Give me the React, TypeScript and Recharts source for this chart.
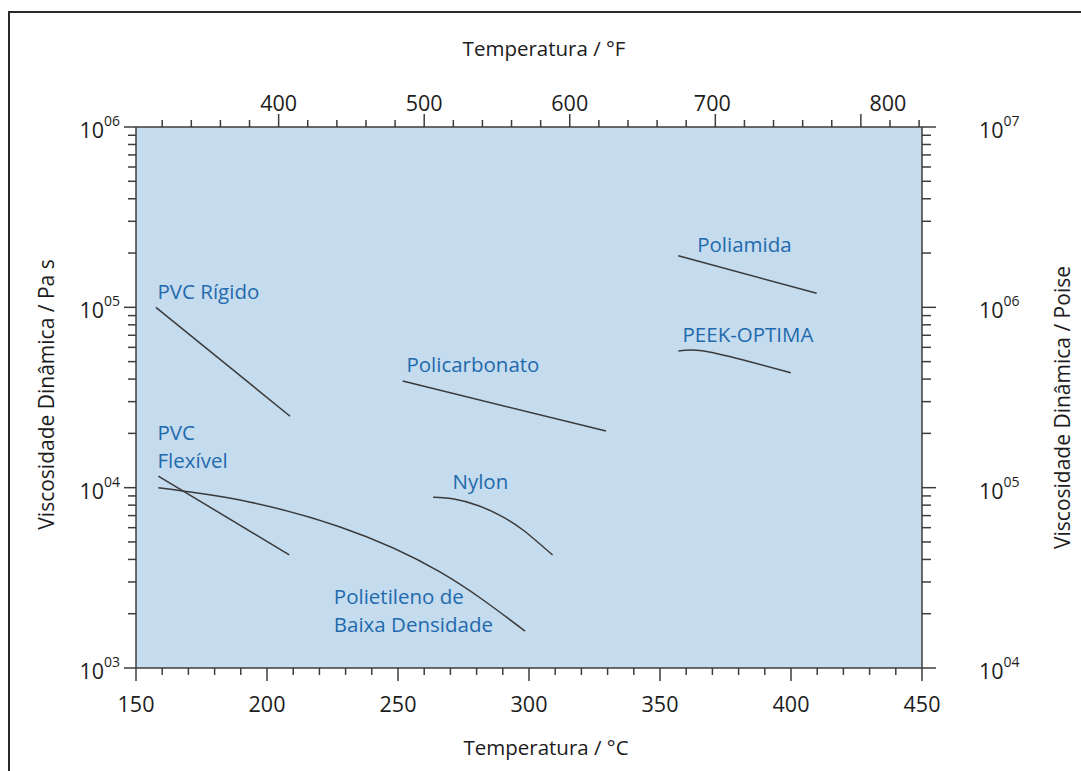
import React from 'react';
import { LineChart, Line, XAxis, YAxis, CartesianGrid, ReferenceDot } from 'recharts';

const FONT = '"Open Sans", "Noto Sans", sans-serif';
const AXIS_COLOR = '#3d3d3d';
const TEXT_COLOR = '#1c1c1c';
const LABEL_BLUE = '#1f6aad';
const LINE_COLOR = '#3a3a3a';
const PLOT_BG = '#c5dbee';

// ---- tick values ----
const celsiusMajor = [150, 200, 250, 300, 350, 400, 450];
const celsiusStep = 10;
const fahrenheitMajor = [400, 500, 600, 700, 800];
const fahrenheitStep = 20;
const fahrenheitDomain = [302, 842]; // 150 °C .. 450 °C
const pasDecades = [1000, 10000, 100000, 1000000];
const poiseDecades = [10000, 100000, 1000000, 10000000];
const mantissas = [1, 2, 3, 4, 5, 6, 7, 8, 9];

// ---- series (Temperature °C, viscosity Pa·s) ----
const pvcRigido = [
  { t: 157.6, v: 100000 },
  { t: 208.8, v: 24900 },
];
const pvcFlexivel = [
  { t: 158.5, v: 11600 },
  { t: 208.5, v: 4240 },
];
const polietileno = [
  { t: 158.5, v: 10000 },
  { t: 189.7, v: 8540 },
  { t: 227.9, v: 6050 },
  { t: 266.0, v: 3410 },
  { t: 298.5, v: 1600 },
];
const nylon = [
  { t: 263.4, v: 8840 },
  { t: 271.8, v: 8630 },
  { t: 280.5, v: 7970 },
  { t: 288.9, v: 7020 },
  { t: 297.7, v: 5825 },
  { t: 309.0, v: 4230 },
];
const policarbonato = [
  { t: 251.8, v: 39000 },
  { t: 329.4, v: 20600 },
];
const poliamida = [
  { t: 357.0, v: 193000 },
  { t: 409.8, v: 119700 },
];
const peek = [
  { t: 357.0, v: 57300 },
  { t: 366.0, v: 57400 },
  { t: 381.8, v: 51000 },
  { t: 399.9, v: 43400 },
];

const annotations = [
  { lines: ['PVC Rígido'], t: 158.2, v: 121600 },
  { lines: ['Policarbonato'], t: 253.2, v: 48000 },
  { lines: ['Poliamida'], t: 364.2, v: 222000 },
  { lines: ['PEEK-OPTIMA'], t: 358.6, v: 70300 },
  { lines: ['PVC', 'Flexível'], t: 158.2, v: 20100 },
  { lines: ['Nylon'], t: 270.8, v: 10800 },
  { lines: ['Polietileno de', 'Baixa Densidade'], t: 225.5, v: 2480 },
];

const seriesList = [pvcRigido, pvcFlexivel, polietileno, nylon, policarbonato, poliamida, peek];
const curvedSeries = [polietileno, nylon, peek];

// build tick arrays
const range = (a: number, b: number, s: number) => {
  const out: number[] = [];
  for (let v = a; v <= b + 1e-9; v += s) out.push(Math.round(v * 1000) / 1000);
  return out;
};
const celsiusTicks = range(celsiusMajor[0], celsiusMajor[celsiusMajor.length - 1], celsiusStep);
const fahrenheitTicks = range(320, 840, fahrenheitStep);
const fahrenheitAnchor = fahrenheitDomain.map((f) => ({ f, v: null }));
const logTicks = (decades: number[]) => {
  const out: number[] = [];
  decades.forEach((d, i) => {
    if (i === decades.length - 1) out.push(d);
    else mantissas.forEach((m) => out.push(m * d));
  });
  return out;
};
const pasTicks = logTicks(pasDecades);
const poiseTicks = logTicks(poiseDecades);

const isDecade = (v: number) => {
  const e = Math.round(Math.log10(v));
  return Math.abs(v / Math.pow(10, e) - 1) < 1e-6;
};
const expLabel = (v: number) => {
  const e = Math.round(Math.log10(v));
  return (e < 10 ? '0' : '') + e;
};

const TICK_FS = 21.5;
const SUP_FS = 14;

const BottomTick = (p: any) => {
  const { x, y, payload } = p;
  const major = celsiusMajor.includes(payload.value);
  return (
    <g>
      <line x1={x} x2={x} y1={y} y2={y + (major ? 13 : 7)} stroke={AXIS_COLOR} strokeWidth={1.5} />
      {major && (
        <text x={x} y={y + 44} textAnchor="middle" fontFamily={FONT} fontSize={TICK_FS} fill={TEXT_COLOR}>
          {payload.value}
        </text>
      )}
    </g>
  );
};

const TopTick = (p: any) => {
  const { x, y, payload } = p;
  const major = fahrenheitMajor.includes(payload.value);
  const dx = payload.value === 800 ? 27 : payload.value === 700 ? -3 : 0;
  return (
    <g>
      <line x1={x} x2={x} y1={y} y2={y - (major ? 13 : 7)} stroke={AXIS_COLOR} strokeWidth={1.5} />
      {major && (
        <text x={x + dx} y={y - 16} textAnchor="middle" fontFamily={FONT} fontSize={TICK_FS} fill={TEXT_COLOR}>
          {payload.value}
        </text>
      )}
    </g>
  );
};

const LeftTick = (p: any) => {
  const { x, y, payload } = p;
  const major = isDecade(payload.value);
  return (
    <g>
      <line x1={x} x2={x - (major ? 12 : 8)} y1={y} y2={y} stroke={AXIS_COLOR} strokeWidth={1.5} />
      {major && (
        <text x={x - 16} y={y + 11} textAnchor="end" fontFamily={FONT} fontSize={TICK_FS} fill={TEXT_COLOR}>
          10
          <tspan dy={-12} fontSize={SUP_FS}>
            {expLabel(payload.value)}
          </tspan>
        </text>
      )}
    </g>
  );
};

const RightTick = (p: any) => {
  const { x, y, payload } = p;
  const major = isDecade(payload.value);
  return (
    <g>
      <line x1={x} x2={x + (major ? 14 : 9)} y1={y} y2={y} stroke={AXIS_COLOR} strokeWidth={1.5} />
      {major && (
        <text x={x + 57} y={y + 11} textAnchor="start" fontFamily={FONT} fontSize={TICK_FS} fill={TEXT_COLOR}>
          10
          <tspan dy={-12} fontSize={SUP_FS}>
            {expLabel(payload.value)}
          </tspan>
        </text>
      )}
    </g>
  );
};

const titleStyle = { fontFamily: FONT, fontSize: 20.5, fill: TEXT_COLOR };

const bottomTitle = (props: any) => {
  const vb = props.viewBox;
  return (
    <text x={vb.x + vb.width / 2 + 17} y={vb.y + 87} textAnchor="middle" {...titleStyle}>
      Temperatura / °C
    </text>
  );
};
const topTitle = (props: any) => {
  const vb = props.viewBox;
  return (
    <text x={vb.x + vb.width / 2 + 15} y={vb.y + vb.height - 71} textAnchor="middle" {...titleStyle}>
      Temperatura / °F
    </text>
  );
};
const leftTitle = (props: any) => {
  const vb = props.viewBox;
  const cx = vb.x + 46;
  const cy = vb.y + vb.height / 2 - 3;
  return (
    <text x={cx} y={cy} transform={`rotate(-90 ${cx} ${cy})`} textAnchor="middle" dominantBaseline="central" {...titleStyle} fontSize={21}>
      Viscosidade Dinâmica / Pa s
    </text>
  );
};
const rightTitle = (props: any) => {
  const vb = props.viewBox;
  const cx = vb.x + 140;
  const cy = vb.y + vb.height / 2 + 10;
  return (
    <text x={cx} y={cy} transform={`rotate(-90 ${cx} ${cy})`} textAnchor="middle" dominantBaseline="central" {...titleStyle} fontSize={21}>
      Viscosidade Dinâmica / Poise
    </text>
  );
};

const makeAnnotation = (lines: string[]) => (props: any) => {
  const vb = props.viewBox || {};
  const cx = (vb.x ?? 0) + (vb.width ?? 0) / 2;
  const cy = (vb.y ?? 0) + (vb.height ?? 0) / 2;
  return (
    <text x={cx} y={cy + 7} textAnchor="start" fontFamily={FONT} fontSize={20.5} fill={LABEL_BLUE}>
      {lines.map((l, i) => (
        <tspan key={i} x={cx} dy={i === 0 ? 0 : 28}>
          {l}
        </tspan>
      ))}
    </text>
  );
};

export default function App() {
  return (
    <div style={{ position: 'absolute', left: 0, top: 0, width: 1081, height: 771, background: '#fff' }}>
      <div
        style={{
          position: 'absolute',
          left: 8,
          top: 11,
          right: 0,
          bottom: 0,
          borderLeft: '2px solid #2a2a2a',
          borderTop: '2px solid #2a2a2a',
        }}
      />
      <div style={{ position: 'absolute', left: 0, top: 0 }}>
        <LineChart width={1081} height={771} margin={{ top: 0, right: 0, bottom: 0, left: 0 }}>
          <CartesianGrid xAxisId="c" yAxisId="pa" horizontal={false} vertical={false} fill={PLOT_BG} stroke="none" />
          <XAxis
            xAxisId="c"
            dataKey="t"
            type="number"
            domain={[celsiusMajor[0], celsiusMajor[celsiusMajor.length - 1]]}
            allowDataOverflow
            ticks={celsiusTicks}
            interval={0}
            orientation="bottom"
            height={103}
            tickSize={0}
            tickMargin={0}
            tickLine={false}
            axisLine={{ stroke: AXIS_COLOR, strokeWidth: 1.5 }}
            tick={<BottomTick />}
            label={{ content: bottomTitle }}
          />
          <XAxis
            xAxisId="f"
            dataKey="f"
            type="number"
            domain={fahrenheitDomain}
            allowDataOverflow
            ticks={fahrenheitTicks}
            interval={0}
            orientation="top"
            height={127}
            tickSize={0}
            tickMargin={0}
            tickLine={false}
            axisLine={{ stroke: AXIS_COLOR, strokeWidth: 1.5 }}
            tick={<TopTick />}
            label={{ content: topTitle }}
          />
          <YAxis
            yAxisId="pa"
            type="number"
            scale="log"
            domain={[pasDecades[0], pasDecades[pasDecades.length - 1]]}
            allowDataOverflow
            ticks={pasTicks}
            interval={0}
            orientation="left"
            width={136}
            tickSize={0}
            tickMargin={0}
            tickLine={false}
            axisLine={{ stroke: AXIS_COLOR, strokeWidth: 1.5 }}
            tick={<LeftTick />}
            label={{ content: leftTitle }}
          />
          <YAxis
            yAxisId="poise"
            type="number"
            scale="log"
            domain={[poiseDecades[0], poiseDecades[poiseDecades.length - 1]]}
            allowDataOverflow
            ticks={poiseTicks}
            interval={0}
            orientation="right"
            width={159}
            tickSize={0}
            tickMargin={0}
            tickLine={false}
            axisLine={{ stroke: AXIS_COLOR, strokeWidth: 1.5 }}
            tick={<RightTick />}
            label={{ content: rightTitle }}
          />
          <Line
            xAxisId="f"
            yAxisId="pa"
            data={fahrenheitAnchor}
            dataKey="v"
            stroke="none"
            dot={false}
            activeDot={false}
            legendType="none"
            isAnimationActive={false}
          />
          {seriesList.map((s, i) => (
            <Line
              key={i}
              xAxisId="c"
              yAxisId="pa"
              data={s}
              dataKey="v"
              type={curvedSeries.includes(s) ? 'natural' : 'linear'}
              stroke={LINE_COLOR}
              strokeWidth={1.5}
              dot={false}
              activeDot={false}
              isAnimationActive={false}
            />
          ))}
          {annotations.map((a, i) => (
            <ReferenceDot
              key={'a' + i}
              xAxisId="c"
              yAxisId="pa"
              x={a.t}
              y={a.v}
              r={0}
              fill="none"
              stroke="none"
              label={{ content: makeAnnotation(a.lines) }}
            />
          ))}
        </LineChart>
      </div>
    </div>
  );
}
